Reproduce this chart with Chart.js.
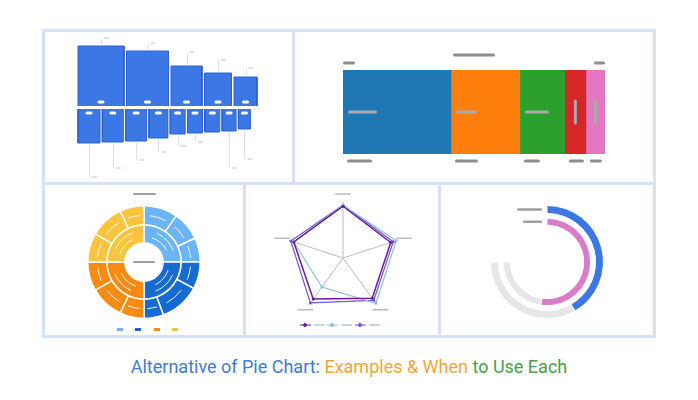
<!DOCTYPE html>
<html>
<head>
<meta charset="utf-8">
<script src="https://cdn.jsdelivr.net/npm/chart.js@4.4.1/dist/chart.umd.min.js"></script>
<style>
  html, body { margin: 0; padding: 0; background: #fff; }
  body { width: 698px; height: 400px; position: relative; overflow: hidden; font-family: Roboto, "Noto Sans", sans-serif; }
  .panel { position: absolute; box-sizing: border-box; border: 3px solid #d5e2f8; background: #fff; }
  canvas { position: absolute; }
  .title { position: absolute; left: 0; top: 356px; width: 698px; text-align: center; font-size: 18px; line-height: 22px; }
</style>
</head>
<body>
<div class="panel" style="left:42px;top:29px;width:253px;height:156px"></div>
<div class="panel" style="left:292px;top:29px;width:364px;height:156px"></div>
<div class="panel" style="left:42px;top:182px;width:204px;height:156px"></div>
<div class="panel" style="left:243px;top:182px;width:198px;height:156px"></div>
<div class="panel" style="left:438px;top:182px;width:218px;height:156px"></div>

<canvas id="barsChart" width="247" height="150" style="left:45px;top:32px"></canvas>
<canvas id="stackChart" width="358" height="150" style="left:295px;top:32px"></canvas>
<canvas id="sunChart" width="198" height="150" style="left:45px;top:185px"></canvas>
<canvas id="radarChart" width="192" height="150" style="left:246px;top:185px"></canvas>
<canvas id="radialChart" width="212" height="150" style="left:441px;top:185px"></canvas>

<div class="title">
  <span style="color:#3d7bd6">Alternative of Pie Chart:</span>
  <span style="color:#f2a531">Examples &amp; When</span>
  <span style="color:#45a047">to Use Each</span>
</div>

<script>
// Panel 1: upper and lower variable width bars
const topValues = [60, 55, 40, 33, 29];
const topWidths = [46, 42, 31, 27, 23];
const bottomValues = [34, 33, 32, 29, 25, 24, 23, 22, 20];
const bottomWidths = [22, 21, 21, 19, 15, 15, 15, 14, 12];

// Panel 2: 100% stacked bar
const stackLabels = ['A', 'B', 'C', 'D', 'E'];
const stackValues = [41.2, 26.3, 17.2, 8.0, 7.3];

// Panel 3: sunburst (outer ring children, three per quadrant)
const sunGroups = ['Q1', 'Q2', 'Q3', 'Q4'];
const sunOuter = [35, 30, 25, 28, 42, 20, 25, 35, 30, 30, 35, 25];

// Panel 4: radar
const radarAxes = ['A', 'B', 'C', 'D', 'E'];
const radarPurple = [98, 95, 94, 96, 98];
const radarTeal = [100, 106, 106, 68, 98];
const radarViolet = [100, 100, 99, 105, 104];

// Panel 5: radial bars (percent of track)
const radialValues = [55.7, 69.6];

const BLUE = '#3b78e6';
const GRAY_TRACK = '#e6e6e6';
const sunColors = ['#6cb4f8', '#156bd1', '#f78a0f', '#fbc43c'];
const stackColors = ['#1f77b4', '#ff7f0e', '#2ca02c', '#d62728', '#e377c2'];

Chart.defaults.animation = false;
Chart.defaults.plugins.legend.display = false;
Chart.defaults.plugins.tooltip.enabled = false;

function pill(ctx, x, y, w, h, color) {
    ctx.save();
    ctx.strokeStyle = color;
    ctx.lineWidth = h;
    ctx.lineCap = 'round';
    ctx.beginPath();
    ctx.moveTo(x + h / 2, y);
    ctx.lineTo(x + w - h / 2, y);
    ctx.stroke();
    ctx.restore();
}

function vline(ctx, x, y0, y1, color) {
    ctx.save();
    ctx.strokeStyle = color;
    ctx.lineWidth = 1;
    ctx.beginPath();
    ctx.moveTo(Math.round(x) + 0.5, y0);
    ctx.lineTo(Math.round(x) + 0.5, y1);
    ctx.stroke();
    ctx.restore();
}

// build rectangles as closed line shapes filled to their base
function rectSets(values, widths, gap, base, sign) {
    let x = 0;
    return values.map((v, i) => {
        const x0 = x, x1 = x + widths[i];
        x = x1 + gap;
        const y1 = base + sign * v;
        return {
            data: [{x: x0, y: base}, {x: x0, y: y1}, {x: x1, y: y1}, {x: x1, y: base}],
            showLine: true,
            fill: {value: base},
            backgroundColor: BLUE,
            borderColor: '#2a62cf',
            borderWidth: 1,
            pointRadius: 0,
            tension: 0
        };
    });
}

const topLeader = [8, 8, 14, 13, 9];
const bottomLeader = [34, 26, 19, 14, 12, 9, 0, 37, 30];

const barsDecor = {
    id: 'barsDecor',
    afterDatasetsDraw(chart) {
        const ctx = chart.ctx;
        chart.data.datasets.forEach((ds, i) => {
            const pts = chart.getDatasetMeta(i).data;
            const cx = (pts[1].x + pts[2].x) / 2;
            const base = pts[0].y;
            const end = pts[1].y;
            if (i < topValues.length) {
                const len = topLeader[i];
                vline(ctx, cx, end - 1, end - len, '#e2e2e2');
                pill(ctx, cx + 3, end - len, 5, 2, '#e0e0e0');
                pill(ctx, cx - 3.5, base - 4, 7, 3, '#ffffff');
            } else {
                const len = bottomLeader[i - topValues.length];
                if (len > 0) {
                    vline(ctx, cx, end + 1, end + len, '#e2e2e2');
                    pill(ctx, cx + 3, end + len, 5, 2, '#e0e0e0');
                }
                pill(ctx, cx - 3.5, base + 4, 7, 3, '#ffffff');
            }
        });
    }
};

const stackDecor = {
    id: 'stackDecor',
    afterDatasetsDraw(chart) {
        const ctx = chart.ctx;
        const area = chart.chartArea;
        const midX = (area.left + area.right) / 2;
        pill(ctx, midX - 21, area.top - 15, 42, 3, '#8e8e8e');
        pill(ctx, area.left, area.top - 7, 12, 3, '#8e8e8e');
        pill(ctx, area.right - 11, area.top - 7, 11, 3, '#8e8e8e');
        const inLen = [29, 21, 24];
        const belowLen = [25, 23, 16, 15, 12];
        chart.data.datasets.forEach((ds, i) => {
            const bar = chart.getDatasetMeta(i).data[0];
            const left = bar.base;
            const right = bar.x;
            const midY = bar.y;
            if (i < 3) {
                pill(ctx, left + 5, midY, inLen[i], 3, '#a9a9a9');
            } else {
                const cx = (left + right) / 2;
                ctx.save();
                ctx.strokeStyle = '#a9a9a9';
                ctx.lineWidth = 3;
                ctx.lineCap = 'round';
                ctx.beginPath();
                ctx.moveTo(cx, midY - 11);
                ctx.lineTo(cx, midY + 11);
                ctx.stroke();
                ctx.restore();
            }
            pill(ctx, left + 4, area.bottom + 7, belowLen[i], 3, '#8e8e8e');
        });
    }
};

function arcLine(ctx, x, y, r, a0, a1) {
    ctx.beginPath();
    ctx.arc(x, y, r, a0, a1);
    ctx.stroke();
}

const sunDecor = {
    id: 'sunDecor',
    afterDatasetsDraw(chart) {
        const ctx = chart.ctx;
        ctx.save();
        ctx.strokeStyle = 'rgba(255,255,255,0.9)';
        ctx.lineWidth = 1;
        ctx.lineCap = 'round';
        chart.getDatasetMeta(0).data.forEach(a => {
            const mid = (a.startAngle + a.endAngle) / 2;
            const half = (a.endAngle - a.startAngle) * 0.28;
            arcLine(ctx, a.x, a.y, (a.innerRadius + a.outerRadius) / 2, mid - half, mid + half);
        });
        chart.getDatasetMeta(1).data.forEach(a => {
            const mid = (a.startAngle + a.endAngle) / 2;
            const t = a.outerRadius - a.innerRadius;
            arcLine(ctx, a.x, a.y, a.innerRadius + t * 0.35, mid - 0.45, mid + 0.3);
            arcLine(ctx, a.x, a.y, a.innerRadius + t * 0.68, mid - 0.35, mid + 0.4);
        });
        ctx.restore();
        const a0 = chart.getDatasetMeta(0).data[0];
        pill(ctx, a0.x - 11, a0.y, 22, 2, '#9e9e9e');
        pill(ctx, a0.x - 11, chart.chartArea.top - 11, 23, 2, '#a0a0a0');
        // legend squares
        const xs = [-27, -9, 10, 28];
        sunColors.forEach((c, i) => {
            ctx.fillStyle = c;
            ctx.fillRect(a0.x + xs[i], chart.chartArea.bottom + 9, 6, 3);
        });
    }
};

const radarDecor = {
    id: 'radarDecor',
    afterDatasetsDraw(chart) {
        const ctx = chart.ctx;
        const scale = chart.scales.r;
        radarAxes.forEach((l, i) => {
            const p = scale.getPointPosition(i, 64);
            pill(ctx, p.x - 8, p.y, 16, 1.5, '#bdbdbd');
        });
        const cx = scale.xCenter;
        const y = scale.yCenter + 67;
        const offs = [-38, -11, 17];
        chart.data.datasets.forEach((ds, i) => {
            const x = cx + offs[i];
            ctx.save();
            ctx.strokeStyle = ds.borderColor;
            ctx.lineWidth = 1;
            ctx.beginPath();
            ctx.moveTo(x - 5, y);
            ctx.lineTo(x + 6, y);
            ctx.stroke();
            ctx.fillStyle = ds.borderColor;
            ctx.beginPath();
            ctx.moveTo(x, y - 2.5);
            ctx.lineTo(x + 2.5, y);
            ctx.lineTo(x, y + 2.5);
            ctx.lineTo(x - 2.5, y);
            ctx.closePath();
            ctx.fill();
            ctx.restore();
            pill(ctx, x + 9, y, 11, 1.5, '#c4c4c4');
        });
    }
};

const radialDecor = {
    id: 'radialDecor',
    afterDatasetsDraw(chart) {
        const ctx = chart.ctx;
        const outer = chart.getDatasetMeta(0).data[0];
        const inner = chart.getDatasetMeta(2).data[0];
        const r1 = (outer.innerRadius + outer.outerRadius) / 2;
        const r2 = (inner.innerRadius + inner.outerRadius) / 2;
        pill(ctx, outer.x - 30, outer.y - r1, 25, 2.5, '#9e9e9e');
        pill(ctx, outer.x - 24, outer.y - r2, 19, 2.5, '#9e9e9e');
    }
};

window.onload = function() {
    // Panel 1
    new Chart(document.getElementById('barsChart'), {
        type: 'scatter',
        data: {
            datasets: rectSets(topValues, topWidths, 2.5, 0, 1)
                .concat(rectSets(bottomValues, bottomWidths, 2.3, -3, -1))
        },
        options: {
            responsive: false,
            layout: {padding: 0},
            scales: {
                x: {type: 'linear', min: -33, max: 214, display: false},
                y: {type: 'linear', min: -76, max: 74, display: false}
            }
        },
        plugins: [barsDecor]
    });

    // Panel 2
    new Chart(document.getElementById('stackChart'), {
        type: 'bar',
        data: {
            labels: [''],
            datasets: stackValues.map((v, i) => ({
                label: stackLabels[i],
                data: [v],
                backgroundColor: stackColors[i],
                barPercentage: 1,
                categoryPercentage: 1
            }))
        },
        options: {
            responsive: false,
            indexAxis: 'y',
            layout: {padding: {left: 48, right: 48, top: 38, bottom: 28}},
            scales: {
                x: {stacked: true, min: 0, max: 100, display: false},
                y: {stacked: true, display: false}
            }
        },
        plugins: [stackDecor]
    });

    // Panel 3
    const sunInner = sunGroups.map((g, i) => sunOuter.slice(i * 3, i * 3 + 3).reduce((a, b) => a + b, 0));
    new Chart(document.getElementById('sunChart'), {
        type: 'doughnut',
        data: {
            labels: sunOuter.map((v, i) => sunGroups[Math.floor(i / 3)] + '-' + (i % 3 + 1)),
            datasets: [
                {data: sunOuter, backgroundColor: sunOuter.map((v, i) => sunColors[Math.floor(i / 3)]),
                 borderColor: '#fff', borderWidth: 1.5, weight: 19},
                {data: sunInner, backgroundColor: sunColors, borderColor: '#fff', borderWidth: 1.5, weight: 18}
            ]
        },
        options: {
            responsive: false,
            cutout: '34%',
            layout: {padding: {left: 42, right: 42, top: 20, bottom: 16}}
        },
        plugins: [sunDecor]
    });

    // Panel 4
    new Chart(document.getElementById('radarChart'), {
        type: 'radar',
        data: {
            labels: radarAxes,
            datasets: [
                {label: 'Series 1', data: radarPurple, borderColor: '#6a1b9a', borderWidth: 1.5},
                {label: 'Series 2', data: radarTeal, borderColor: '#8fc0d8', borderWidth: 1.2},
                {label: 'Series 3', data: radarViolet, borderColor: '#6f55d8', borderWidth: 1.2}
            ].map(d => Object.assign(d, {fill: false, pointRadius: 1.5, pointBackgroundColor: d.borderColor, pointBorderWidth: 0}))
        },
        options: {
            responsive: false,
            layout: {padding: {left: 41, right: 39, top: 17, bottom: 21}},
            scales: {
                r: {
                    min: 0,
                    max: 106,
                    ticks: {display: false},
                    grid: {display: false},
                    angleLines: {color: '#bdbdbd', lineWidth: 1},
                    pointLabels: {display: false}
                }
            }
        },
        plugins: [radarDecor]
    });

    // Panel 5
    new Chart(document.getElementById('radialChart'), {
        type: 'doughnut',
        data: {
            labels: ['Value', 'Rest'],
            datasets: [
                {data: [radialValues[0], 100 - radialValues[0]], backgroundColor: [BLUE, GRAY_TRACK],
                 borderColor: '#fff', borderWidth: 1, weight: 8},
                {data: [100], backgroundColor: 'rgba(0,0,0,0)', borderWidth: 0, weight: 5},
                {data: [radialValues[1], 100 - radialValues[1]], backgroundColor: ['#d97bc8', GRAY_TRACK],
                 borderColor: '#fff', borderWidth: 1, weight: 7}
            ]
        },
        options: {
            responsive: false,
            rotation: 0,
            circumference: 270,
            cutout: '65%',
            layout: {padding: {left: 49, right: 49, top: 20, bottom: 16}}
        },
        plugins: [radialDecor]
    });
};
</script>
</body>
</html>
